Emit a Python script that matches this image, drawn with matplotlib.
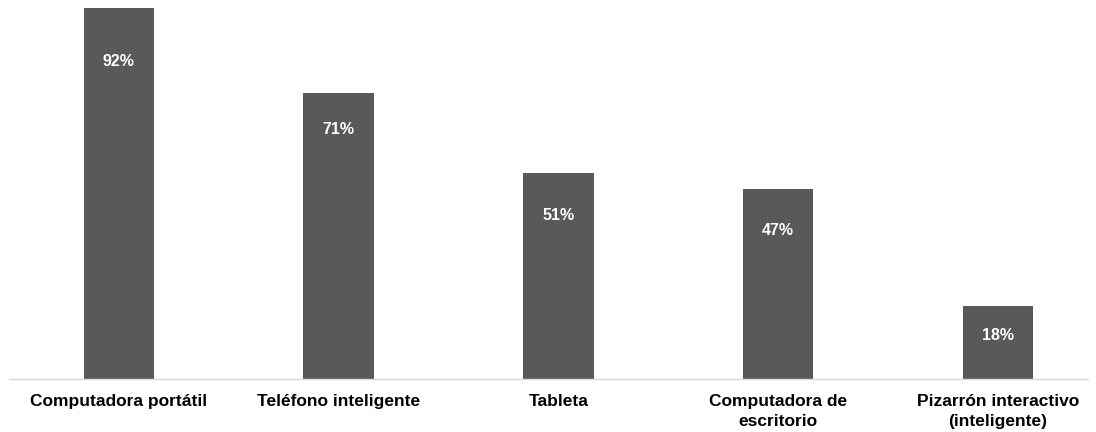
import matplotlib
matplotlib.use("Agg")
import matplotlib.pyplot as plt

plt.rcParams['font.family'] = ['Liberation Sans', 'DejaVu Sans']

categorias = ["Computadora portátil", "Teléfono inteligente", "Tableta",
              "Computadora de\nescritorio", "Pizarrón interactivo\n(inteligente)"]
valores = [92, 71, 51, 47, 18]
etiquetas = ["92%", "71%", "51%", "47%", "18%"]

# distancia de la etiqueta bajo el borde superior de cada barra (px)
desfase_px = [54, 37, 42, 41, 29]

fig = plt.figure(figsize=(10.96, 4.32), dpi=100)
ax = fig.add_axes([9/1096, 53/432, 1079/1096, 371/432])

x = range(len(categorias))
ax.bar(x, valores, width=0.32, color='#595959', zorder=2)
ax.set_xlim(-0.5, 4.41)
ax.set_ylim(0, 92)

for i, v in enumerate(valores):
    ax.annotate(etiquetas[i], (i, v), xytext=(0, -desfase_px[i]*0.72),
                textcoords='offset points', ha='center', va='center',
                color='white', fontsize=11.5, fontweight='bold')

ax.set_xticks(list(x))
ax.set_xticklabels(categorias, fontsize=12.5, fontweight='bold', va='top',
                   linespacing=1.43)
ax.tick_params(axis='x', length=0, pad=10.5)
ax.set_yticks([])
for s in ['top', 'right', 'left']:
    ax.spines[s].set_visible(False)
ax.spines['bottom'].set_color('#d9d9d9')
ax.spines['bottom'].set_linewidth(1)

fig.savefig("out.png", dpi=100)
